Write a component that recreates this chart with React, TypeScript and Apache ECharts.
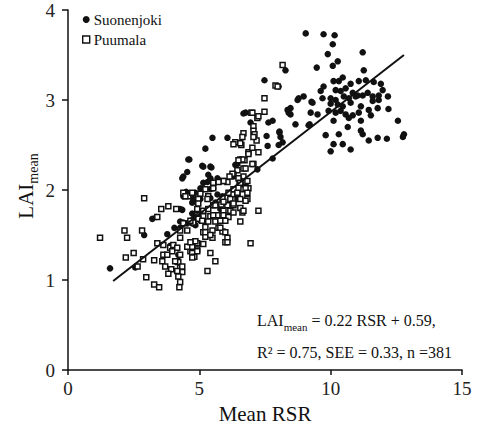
import React, { useEffect, useRef } from 'react';
import * as echarts from 'echarts';

// [Mean RSR, LAI mean]
const suonenjoki: number[][] = [
  [1.60,1.13],[2.56,1.14],[2.90,1.50],[3.21,1.68],[3.36,1.70],[3.78,1.51],[4.05,1.58],[4.35,2.13],[4.54,2.20],[4.62,2.34],[4.35,1.78],[4.50,1.98],[3.89,1.38],[4.20,1.28],[4.54,1.37],[4.27,1.58],[4.39,1.64],[4.27,1.79],
  [6.76,2.86],[6.95,2.75],[7.63,2.75],[7.79,2.77],[5.50,2.58],[6.07,2.58],[7.56,2.60],[8.05,2.64],[5.23,2.46],[7.60,2.49],[8.02,2.50],[4.58,2.34],[5.11,2.27],[5.46,2.25],[4.39,2.15],[6.37,2.28],[5.42,2.13],[5.31,2.09],[5.69,2.13],[5.53,2.02],[5.04,2.02],[4.85,1.97],[4.73,1.86],[4.39,1.93],[4.92,1.77],[4.27,1.65],[4.54,1.63],[4.77,1.68],[5.04,1.70],
  [7.48,3.22],[6.68,2.85],
  [5.15,2.26],[5.42,2.26],[5.34,2.17],[5.42,2.12],[5.15,2.08],[4.73,1.96],[4.77,1.90],[5.04,1.90],[5.42,1.91],[5.69,1.95],[5.88,1.93],[6.30,2.15],[6.45,2.29],[5.42,2.01],[4.73,1.74],[4.85,1.70],[5.11,1.68],[4.73,1.63],[4.85,1.61],[5.04,1.66],[5.80,1.79],[5.61,1.86],[6.18,1.86],[6.45,1.90],[7.21,2.23],[7.79,2.35],
  [9.05,3.74],[9.73,3.73],[10.15,3.72],[10.08,3.62],[9.89,3.51],[11.22,3.53],[10.27,3.43],[10.08,3.38],[9.47,3.36],[8.28,3.33],[11.26,3.33],[10.46,3.25],[10.11,3.21],[10.31,3.21],[10.76,3.18],[11.07,3.21],[11.34,3.22],[11.64,3.20],[11.91,3.18],
  [9.73,3.15],[9.62,3.10],[10.19,3.11],[10.38,3.10],[10.57,3.13],[10.84,3.08],[11.03,3.05],[11.22,3.05],[11.41,3.08],[11.60,3.04],[11.83,3.05],[11.98,3.11],[12.18,3.04],
  [8.78,3.02],[8.97,3.04],[9.27,2.98],[9.69,3.02],[10.00,3.02],[10.19,3.00],[10.50,3.04],[10.69,3.02],[10.95,3.04],[11.60,2.99],[11.83,3.00],
  [10.00,2.96],[10.27,2.95],[10.46,2.93],[10.76,2.97],[11.15,2.93],[11.45,2.89],[11.79,2.91],[8.36,2.89],[8.47,2.84],[9.24,2.86],[9.50,2.84],[9.92,2.88],[10.19,2.86],[10.38,2.88],[10.57,2.84],[10.84,2.83],[11.07,2.86],[11.53,2.83],
  [8.66,2.73],[9.16,2.72],[10.11,2.77],[10.69,2.80],[11.15,2.77],[12.56,2.77],[9.81,2.61],[10.31,2.62],[10.65,2.70],[11.15,2.66],[11.22,2.62],[10.11,2.51],[10.46,2.51],[11.45,2.55],[11.79,2.58],[12.14,2.57],[12.79,2.62],[12.75,2.59],[8.09,2.59],[8.17,2.53],
  [8.74,3.00],[8.05,2.65],[10.00,2.43],[10.76,2.45],[9.20,2.73],[8.02,3.15],[9.31,2.97],[8.47,2.91],[8.40,2.86],[12.20,2.90]
];

const puumala: number[][] = [
  [2.90,1.91],[3.55,1.79],[3.82,1.82],[4.12,1.79],[3.40,1.70],[2.82,1.55],[2.25,1.47],[3.40,1.41],[3.63,1.39],[3.89,1.36],[3.63,1.28],[3.78,1.28],[2.86,1.23],[3.28,1.22],[3.59,1.21],[3.70,1.15],[3.93,1.12],[3.82,1.07],[2.98,1.03],[3.28,0.95],[3.47,0.92],[4.27,0.98],[4.24,0.92],[4.16,1.21],[4.27,1.14],[4.35,1.09],[4.27,1.28],[4.20,1.20],[4.39,1.97],[4.58,1.93],[4.66,1.32],[4.54,1.37],[4.77,1.42],[4.73,1.30],[4.92,1.34],[4.92,1.41],[4.81,1.26],[4.27,1.47],[4.01,1.39],[3.97,1.32],[4.16,1.36],[4.08,1.21],[4.16,1.10],[4.35,1.15],[4.20,1.04],[1.22,1.47],
  [2.15,1.55],[2.50,1.30],[2.65,1.15],[2.20,1.25],
  [6.56,2.34],[6.72,2.33],[7.06,2.29],[6.68,2.24],[6.45,2.22],[6.30,2.17],[6.68,2.15],[5.88,2.10],[6.07,2.09],[6.53,2.10],[6.76,2.09],[5.23,2.01],[5.53,2.02],[6.30,2.01],[6.68,2.01],[6.87,2.02],[5.04,1.96],[5.34,1.93],[6.26,1.95],[6.45,1.96],[4.96,1.90],[5.31,1.90],[5.88,1.91],[6.56,1.90],[6.83,1.90],[4.92,1.79],[5.53,1.83],[5.84,1.84],[6.07,1.83],[6.30,1.83],[6.56,1.80],[5.92,1.77],[6.18,1.77],[6.64,1.75],[7.25,1.77],[5.15,1.71],[5.42,1.71],[5.69,1.72],[5.92,1.72],[6.11,1.70],[5.61,1.65],[5.80,1.66],[5.99,1.66],[6.56,1.65],[4.96,1.68],[4.77,1.64],[5.23,1.59],[5.15,1.53],[5.23,1.48],[5.50,1.47],[5.73,1.58],[5.88,1.54],[6.07,1.47],[5.99,1.42],[5.15,1.40],[4.85,1.43],[4.73,1.37],[4.92,1.32],[4.73,1.25],[5.42,1.30],[6.95,1.41],[5.61,1.21],[5.31,1.10],
  [7.48,3.02],[6.98,2.86],[7.48,2.87],[7.21,2.80],[7.06,2.71],[7.06,2.66],[7.10,2.62],[6.68,2.63],[6.64,2.59],[6.37,2.53],[6.60,2.50],[7.18,2.55],[6.87,2.42],[7.25,2.42],[6.64,2.34],[6.49,2.33],[6.76,2.24],[6.26,2.18],[6.15,2.15],[5.92,2.10],[5.73,2.09],[5.53,2.08],[6.49,2.13],[6.56,2.08],[6.83,2.10],[6.76,2.02],[6.83,1.97],[6.45,1.97],[6.11,1.97],[6.18,1.90],[5.92,1.87],[6.30,1.85],[6.76,1.88],[5.61,1.83],[5.34,1.79],[5.15,1.77],[4.96,1.85],[4.47,1.93],[4.73,1.97],[6.30,1.75],[6.68,1.77],[5.11,1.66],[5.34,1.65],[5.53,1.72],[4.39,1.63],[4.66,1.66],[4.27,1.55],[4.54,1.55],[5.23,1.53],[5.50,1.55],[5.80,1.58],[5.99,1.53],[5.42,1.50],[6.07,1.42],[4.66,1.42],
  [8.17,3.39],[7.90,3.16],[7.98,3.15],[7.25,2.82],[7.02,2.86],[7.06,2.59],[6.30,2.51],[6.56,2.52],[7.02,2.47],[6.87,2.40],[7.02,2.29]
];

const regressionLine: number[][] = [[1.72, 0.99], [12.79, 3.5]];

const xRange = { min: 0, max: 15, interval: 5 };
const yRange = { min: 0, max: 4, interval: 1 };

const FONT = 'Liberation Serif';

export default function App() {
  const ref = useRef<HTMLDivElement>(null);
  useEffect(() => {
    if (!ref.current) return;
    const chart = echarts.init(ref.current, undefined, { renderer: 'svg' });
    chart.setOption({
      animation: false,
      backgroundColor: '#ffffff',
      textStyle: { fontFamily: FONT },
      grid: { left: 68, right: 16, top: 10, bottom: 51 },
      legend: {
        orient: 'vertical',
        left: 77,
        top: 7,
        itemGap: 5,
        itemWidth: 7,
        itemHeight: 7,
        textStyle: { fontFamily: FONT, fontSize: 15, color: '#111', padding: [0, 0, 0, -1] },
        data: [
          { name: 'Suonenjoki', icon: 'circle', itemStyle: { color: '#111', borderWidth: 0 } },
          { name: 'Puumala', icon: 'rect', itemStyle: { color: '#fff', borderColor: '#111', borderWidth: 1.4 } }
        ]
      },
      xAxis: {
        type: 'value',
        min: xRange.min,
        max: xRange.max,
        interval: xRange.interval,
        name: 'Mean RSR',
        nameLocation: 'middle',
        nameGap: 31,
        nameTextStyle: { fontFamily: FONT, fontSize: 21, color: '#111' },
        axisLine: { show: true, lineStyle: { color: '#111', width: 1.5 } },
        axisTick: { show: true, length: 5, lineStyle: { color: '#111', width: 1.5 } },
        axisLabel: { fontFamily: FONT, fontSize: 19, color: '#222', margin: 9 },
        splitLine: { show: false }
      },
      yAxis: {
        type: 'value',
        min: yRange.min,
        max: yRange.max,
        interval: yRange.interval,
        axisLine: { show: true, lineStyle: { color: '#111', width: 1.5 } },
        axisTick: { show: true, length: 6, lineStyle: { color: '#111', width: 1.5 } },
        axisLabel: { fontFamily: FONT, fontSize: 19, color: '#222', margin: 13 },
        splitLine: { show: false }
      },
      graphic: [
        {
          type: 'text',
          x: 26,
          y: 186,
          rotation: Math.PI / 2,
          style: {
            text: '{a|LAI}{b|mean}',
            align: 'center',
            verticalAlign: 'middle',
            fill: '#111',
            rich: {
              a: { fontFamily: FONT, fontSize: 21, lineHeight: 28, fill: '#111' },
              b: { fontFamily: FONT, fontSize: 14, lineHeight: 14, verticalAlign: 'bottom', fill: '#111' }
            }
          }
        },
        {
          type: 'text',
          left: 257,
          top: 312,
          style: {
            text: '{a|LAI}{b|mean}{a| = 0.22 RSR + 0.59,}',
            fill: '#111',
            rich: {
              a: { fontFamily: FONT, fontSize: 16, lineHeight: 24, fill: '#111' },
              b: { fontFamily: FONT, fontSize: 11, lineHeight: 11, verticalAlign: 'bottom', fill: '#111' }
            }
          }
        },
        {
          type: 'text',
          left: 257,
          top: 344,
          style: {
            text: 'R\u00b2 = 0.75, SEE = 0.33, n =381',
            fontFamily: FONT,
            fontSize: 16,
            fill: '#111'
          }
        }
      ],
      series: [
        {
          name: 'Suonenjoki',
          type: 'scatter',
          symbol: 'circle',
          symbolSize: 6.5,
          itemStyle: { color: '#111', opacity: 1 },
          data: suonenjoki,
          z: 2
        },
        {
          name: 'Puumala',
          type: 'scatter',
          symbol: 'rect',
          symbolSize: 5,
          itemStyle: { color: '#ffffff', borderColor: '#111', borderWidth: 1.5, opacity: 1 },
          data: puumala,
          z: 3
        },
        {
          name: 'fit',
          type: 'line',
          data: regressionLine,
          symbol: 'none',
          lineStyle: { color: '#111', width: 2 },
          z: 4
        }
      ]
    });
    return () => chart.dispose();
  }, []);
  return <div ref={ref} style={{ position: 'absolute', left: 0, top: 0, width: 478, height: 429 }} />;
}
